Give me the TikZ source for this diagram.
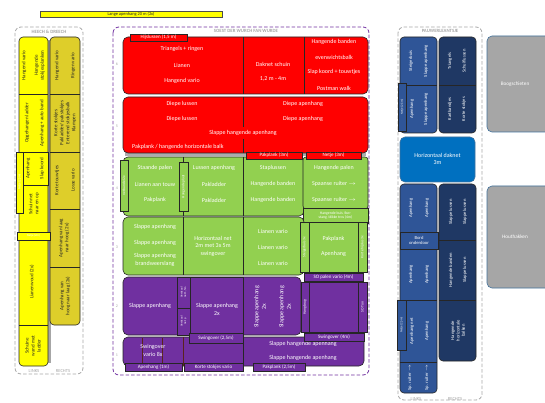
\documentclass[tikz,border=0pt]{standalone}
\usepackage{fontspec}
\setmainfont{Carlito}
\definecolor{ylw}{RGB}{255,255,0}
\definecolor{dylw}{RGB}{222,206,42}
\definecolor{rd}{RGB}{255,0,0}
\definecolor{grn}{RGB}{146,208,80}
\definecolor{prp}{RGB}{112,48,160}
\definecolor{blu}{RGB}{47,85,151}
\definecolor{nvy}{RGB}{31,56,100}
\definecolor{dak}{RGB}{0,112,192}
\definecolor{gry}{RGB}{166,166,166}
\definecolor{edgeb}{RGB}{65,113,156}
\definecolor{brn}{RGB}{90,35,30}
\begin{document}
\begin{tikzpicture}[x=1pt,y=-1pt,
  wt/.style={text=white, font=\fontsize{6}{7.5}\selectfont, inner sep=0pt, align=center},
  bt/.style={text=black!85, font=\fontsize{5}{6}\selectfont, inner sep=0pt, align=center},
  lt/.style={text=white, font=\fontsize{4.6}{5.4}\selectfont, inner sep=0pt, align=center},
  st/.style={text=white, font=\fontsize{5}{6}\selectfont, inner sep=0pt, align=center},
  tt/.style={text=white, font=\fontsize{3}{3.6}\selectfont, inner sep=0pt, align=center},
  hd/.style={text=gry, font=\bfseries\fontsize{4.8}{5.5}\selectfont, inner sep=0pt},
  rn/.style={text=gry, font=\fontsize{4}{5}\selectfont, inner sep=0pt},
  blk/.style={draw=black!85, line width=0.6pt},
  pnl/.style={line width=0.8pt, rounded corners=6, dash pattern=on 3.5pt off 2pt},
]
\useasboundingbox (0,0) rectangle (545,403);
\clip (0,0) rectangle (545,403);

% top bar
\draw[fill=ylw, draw=black!70, line width=0.5pt] (40,11) rectangle (222,17);
\node[bt, font=\fontsize{4.4}{5}\selectfont] (topbar) at (131,14) {Lange apenhang 20 m (2x)};

%================ LEFT PANEL
\draw[pnl, gry] (15,27) rectangle (83,374);
\node[hd] (hl) at (49,32) {HEECH \& DREECH};
\fill[gray!70] (48,40) rectangle (50.5,363);
\draw[blk, fill=ylw, rounded corners=4] (19,37) rectangle (48,366);
\draw[blk, fill=dylw, rounded corners=4] (50,37) rectangle (80,325);
\draw[blk] (19,94) -- (48,94) (19,152) -- (48,152) (19,325) -- (48,325);
\draw[blk] (50,94) -- (80,94) (50,152) -- (80,152) (50,209) -- (80,209) (50,267) -- (80,267);
\draw[blk, fill=ylw] (23,152) rectangle (48,185);
\draw[blk, fill=ylw] (16,152) rectangle (23,213);
\node[tt, rotate=90] (lnet1) at (19.5,182) {Netje (2,5m)};
\draw[blk, fill=ylw] (17,232) rectangle (50,240);
\node[tt] (lnet2) at (33.5,236) {Netje (2m)};

\node[bt, rotate=90] (l1a) at (24,65.5) {Hangend vario};
\node[bt, rotate=90] (l1b) at (39.5,65.5) {Hangende\\stokjesplanken};
\node[bt, rotate=90] (l2a) at (27,123) {Opgehangen ladder};
\node[bt, rotate=90] (l2b) at (42,123) {Apenhang + auto band};
\node[bt, rotate=90] (l3a) at (28,168.5) {Apenhang};
\node[bt, rotate=90] (l3b) at (42,168.5) {Slap koord};
\node[bt, rotate=90] (l4) at (34,204) {Schuin net\\naar en op};
\node[bt, rotate=90] (l5) at (32,282) {Lianenwoud (2x)};
\node[bt, rotate=90] (l6) at (33,346) {Schuine\\wand met\\ladder};

\node[bt, rotate=90] (r1a) at (57,65.5) {Hangend vario};
\node[bt, rotate=90] (r1b) at (73,65.5) {Ringen vario};
\node[bt, rotate=90] (r2) at (65,123) {Korte stokjes\\Pakladder/ pakstokjes\\Enterend stokjesbalk\\Klampen};
\node[bt, rotate=90] (r3a) at (57,180.5) {Korte touwtjes};
\node[bt, rotate=90] (r3b) at (73,180.5) {Losse vario};
\node[bt, rotate=90] (r4) at (64,238) {Apenhang van laag\\naar hoog (2x)};
\node[bt, rotate=90] (r5) at (65,296) {Apenhang van\\hoog naar laag (2x)};

\node[hd, font=\fontsize{4.6}{5.5}\selectfont] (lks) at (34,371) {LINKS};
\node[hd, font=\fontsize{4.6}{5.5}\selectfont] (rcs) at (63,371) {RECHTS};

%================ MIDDLE PANEL
\draw[pnl, prp] (113,27) rectangle (369,375);
\node[hd] (hm) at (246,31) {SOEST DER WURCH FAN WURDE};
\node[rn] (n6) at (117,64) {6};
\node[rn] (n5) at (117,126) {5};
\node[rn] (n4) at (117,188) {4};
\node[rn] (n3) at (117,247) {3};
\node[rn] (n2) at (117,306) {2};
\node[rn] (n1) at (117,355) {1};

% row 6
\draw[blk, fill=rd, rounded corners=5] (123,37) rectangle (368,94);
\draw[blk] (243,37) -- (243,94) (304,37) -- (304,94);
\draw[blk, fill=rd] (130,34) rectangle (187,41);
\node[st] (hijs) at (158.5,37.5) {Hijslussen (1,5 m)};
\node[wt] (a1) at (182,49) {Triangels + ringen};
\node[wt] (a2) at (182,65) {Lianen};
\node[wt] (a3) at (182,81) {Hangend vario};
\node[wt] (a4) at (273,64) {Daknet schuin};
\node[wt] (a5) at (273,79) {1,2 m - 4m};
\node[wt] (a6) at (334,42) {Hangende banden};
\node[wt] (a7) at (334,57) {evenwichtsbalk};
\node[wt] (a8) at (334,72) {Slap koord + touwtjes};
\node[wt] (a9) at (334,88) {Postman walk};

% row 5
\fill[gray!65] (125,152) rectangle (366,156);
\draw[blk, fill=rd, rounded corners=5] (123,97) rectangle (368,153);
\draw[blk] (243,97) -- (243,127) (243,139) -- (243,153);
\node[wt] (b1) at (182,103.5) {Diepe lussen};
\node[wt] (b2) at (303,104) {Diepe apenhang};
\node[wt] (b3) at (182,119) {Diepe lussen};
\node[wt] (b4) at (303,119) {Diepe apenhang};
\node[wt] (b5) at (243,133) {Slappe hangende apenhang};
\node[wt, anchor=west] (b6) at (132,147) {Pakplank / hangende horizontale balk};

% row 4
\draw[blk, fill=grn, rounded corners=5] (123,157) rectangle (304,216);
\draw[blk] (183,157) -- (183,216) (243,157) -- (243,216);
\draw[blk, fill=grn, rounded corners=3] (303,157) rectangle (368,209);
\draw[blk, fill=grn] (303,208) rectangle (368,223);
\node[tt, font=\fontsize{3.8}{4.6}\selectfont] (hbuis) at (335.5,215.5) {Hangende buis /bw-\\stang /dikke tros (4m)};
\draw[blk, fill=grn] (120,160) rectangle (128,211);
\node[tt, font=\fontsize{3.6}{4}\selectfont, rotate=90] (nbund) at (124,185.5) {netbundel 2x};
\draw[blk, fill=grn] (179,162) rectangle (188,211);
\node[tt, font=\fontsize{3.6}{4}\selectfont, rotate=90] (hplaat) at (183.5,186.5) {Hangende plaat};
\node[wt] (c1) at (155,168) {Staande palen};
\node[wt] (c2) at (155,184) {Lianen aan touw};
\node[wt] (c3) at (155,200) {Pakplank};
\node[wt] (c4) at (214,168) {Lussen apenhang};
\node[wt] (c5) at (214,184) {Pakladder};
\node[wt] (c6) at (214,200) {Pakladder};
\node[wt] (c7) at (273,168) {Staplussen};
\node[wt] (c8) at (273,184) {Hangende banden};
\node[wt] (c9) at (273,200) {Hangende banden};
\node[wt] (c10) at (334,168) {Hangende palen};
\node[wt] (c11) at (334,184) {Spaanse ruiter $\rightarrow$};
\node[wt] (c12) at (334,200) {Spaanse ruiter $\rightarrow$};
\draw[blk, fill=rd] (246,152) rectangle (302,159);
\node[st] (pk3) at (274,155.5) {Pakplank (3m)};
\draw[blk, fill=rd] (306,152) rectangle (361,159);
\node[st] (nt3) at (333.5,155.5) {Netje (3m)};

% row 3
\draw[blk, fill=grn, rounded corners=5] (123,217) rectangle (304,275);
\draw[blk] (183,217) -- (183,275) (243,217) -- (243,275);
\draw[blk, fill=grn] (309,222) rectangle (358,272);
\draw[blk, fill=grn] (300,222) rectangle (309,272);
\node[tt, font=\fontsize{3.6}{4}\selectfont, rotate=90] (stb) at (304.5,247) {Steigerbuis 3x};
\draw[blk, fill=grn] (358,222) rectangle (367,272);
\node[tt, font=\fontsize{3.6}{4}\selectfont, rotate=90] (khl) at (362.5,247) {Korte hijslus 3x};
\node[wt] (d1) at (155,227) {Slappe apenhang};
\node[wt] (d2) at (155,243) {Slappe apenhang};
\node[wt] (d3) at (155,260) {Slappe apenhang\\brandweerslang};
\node[wt] (d4) at (213,246) {Horizontaal net\\2m met 3x 5m\\swingover};
\node[wt] (d5) at (273,231) {Lianen vario};
\node[wt] (d6) at (273,247) {Lianen vario};
\node[wt] (d7) at (273,263) {Lianen vario};
\node[wt] (d8) at (333.5,239) {Pakplank};
\node[wt] (d9) at (333.5,254) {Apenhang};

% row 2
\draw[blk, fill=prp, rounded corners=5] (123,277) rectangle (301,335);
\draw[blk, fill=prp] (190,277) rectangle (243,333);
\draw[blk, fill=prp] (177,277) rectangle (190,308);
\draw[blk, fill=prp] (177,308) rectangle (190,335);
\node[tt, rotate=90] (vn1) at (183.5,292.5) {Verticaal\\net 1,5m};
\node[tt, rotate=90] (vn2) at (183.5,321.5) {Verticaal\\net p};
\draw[blk, fill=prp] (309,282) rectangle (358,332);
\draw[blk, fill=prp] (301,282) rectangle (309,332);
\node[tt, font=\fontsize{3.8}{4.2}\selectfont, rotate=90] (hbr) at (305,307) {Hangbrug};
\draw[blk, fill=prp] (358,282) rectangle (367,332);
\node[tt, font=\fontsize{3.8}{4.2}\selectfont, rotate=90] (sot) at (362.5,307) {SO Ton};
\node[wt] (e1) at (150,306) {Slappe apenhang};
\node[wt] (e2) at (217,309.5) {Slappe apenhang\\2x};
\node[wt, rotate=90] (e3) at (260,307) {Slappe apenhang\\2x};
\node[wt, rotate=90] (e4) at (285,307) {Slappe apenhang\\2x};

% row 1
\draw[blk, fill=prp, rounded corners=5] (123,337) rectangle (364,366);
\draw[brn, line width=0.8pt] (142,338) -- (142,365) (162,338) -- (162,365);
\draw[brn, line width=1pt] (183,337) -- (183,366);
\draw[blk] (243,337) -- (243,366);
\node[wt] (f1) at (153,350.5) {Swingover\\vario 8x};
\node[wt] (f2) at (303,344) {Slappe hangende apenhang};
\node[wt] (f3) at (303,358) {Slappe hangende apenhang};

% labels on row boundaries
\draw[blk, fill=prp] (304,273) rectangle (363,281);
\node[st] (sopv) at (333.5,277) {SO palen vario (4m)};
\draw[blk, fill=prp] (304,333) rectangle (364,341);
\node[st] (sw4) at (334,337) {Swingover (4m)};
\draw[blk, fill=prp] (189,333) rectangle (243,343);
\node[st] (sw25) at (216,338) {Swingover (2,5m)};
\draw[blk, fill=prp] (125,363) rectangle (182,371);
\node[st] (ah1) at (153.5,367) {Apenhang (1m)};
\draw[blk, fill=prp] (184,363) rectangle (243,371);
\node[st] (ksv) at (213.5,367) {Korte stokjes vario};
\draw[blk, fill=prp] (253,363) rectangle (305,371);
\node[st] (pk25) at (279,367) {Pakplank (2,5m)};

%================ RIGHT PANEL
\draw[pnl, gry] (398,27) rectangle (482,400);
\node[hd] (hr) at (440,31) {PAUWERLEANTSJE};
\draw[blk, fill=blu, rounded corners=4] (400,37) rectangle (437,133);
\draw[blk] (400,85) -- (437,85);
\draw[blk, fill=nvy, rounded corners=4] (439,37) rectangle (476,133);
\draw[blk] (439,85) -- (476,85);
\draw[blk, fill=blu] (398,83) rectangle (406,131);
\node[tt, rotate=90] (pn1) at (402,107) {Netje (2,5m)};
\node[lt, rotate=90] (p1) at (411,61) {Steigerbuis};
\node[lt, rotate=90] (p2) at (426,61) {Slappe apenhang};
\node[lt, rotate=90] (p3) at (412,109) {Apenhang};
\node[lt, rotate=90] (p4) at (426,109) {Slappe apenhang};
\node[lt, rotate=90] (p5) at (450,61) {Triangels};
\node[lt, rotate=90] (p6) at (464,61) {Schuiflussen};
\node[lt, rotate=90] (p7) at (450,109) {Kartbandjes};
\node[lt, rotate=90] (p8) at (464,109) {Korte stokjes};

\draw[draw=edgeb, line width=0.6pt, fill=dak, rounded corners=5] (400,137) rectangle (475,182);
\node[wt] (dk) at (437.5,159) {Horizontaal daknet\\3m};

\draw[blk, fill=blu, rounded corners=4] (400,184) rectangle (437,393);
\draw[blk] (400,249) -- (437,249) (400,300) -- (437,300) (400,362) -- (437,362);
\draw[blk, fill=blu] (400,232) rectangle (438,249);
\node[lt] (bord) at (419,240.5) {Bord\\onderdoor};
\draw[blk, fill=blu] (397,300) rectangle (406,350);
\node[tt, rotate=90] (pn2) at (401.5,325) {Netje (2,5m)};
\node[lt, rotate=90] (q1) at (411,208) {Apenhang};
\node[lt, rotate=90] (q2) at (427,208) {Apenhang};
\node[lt, rotate=90] (q3) at (411,274.5) {Apenhang};
\node[lt, rotate=90] (q4) at (427,274.5) {Apenhang};
\node[lt, rotate=90] (q5) at (412,331) {Apenhang net};
\node[lt, rotate=90] (q6) at (427,331) {Apenhang};
\node[lt, rotate=90] (q7) at (410,377.5) {Sp. ruiter $\rightarrow$};
\node[lt, rotate=90] (q8) at (427,377.5) {Sp. ruiter $\rightarrow$};

\draw[blk, fill=nvy, rounded corners=4] (439,184) rectangle (476,361);
\draw[blk] (439,240) -- (476,240) (439,300) -- (476,300);
\node[lt, rotate=90] (s1) at (451,212) {Slappe lussen};
\node[lt, rotate=90] (s2) at (465,212) {Slappe lussen};
\node[lt, rotate=90] (s3) at (451,270) {Hangende banden};
\node[lt, rotate=90] (s4) at (465,270) {Slappe lussen};
\node[lt, rotate=90] (s5) at (458,330.5) {Hangende\\horizontale\\balken};

\node[hd, font=\fontsize{4.6}{5.5}\selectfont] (lks2) at (416,399) {LINKS};
\node[hd, font=\fontsize{4.6}{5.5}\selectfont] (rcs2) at (455,399) {RECHTS};

%================ FAR RIGHT
\draw[draw=edgeb, line width=0.6pt, fill=gry, rounded corners=5] (487,36) rectangle (560,132);
\node[lt, font=\fontsize{5.2}{6}\selectfont] (boog) at (515,84) {Boogschieten};
\draw[draw=edgeb, line width=0.6pt, fill=gry, rounded corners=5] (487,186) rectangle (560,288);
\node[lt, font=\fontsize{5.2}{6}\selectfont] (hout) at (515,237) {Houthakken};
\end{tikzpicture}
\end{document}
